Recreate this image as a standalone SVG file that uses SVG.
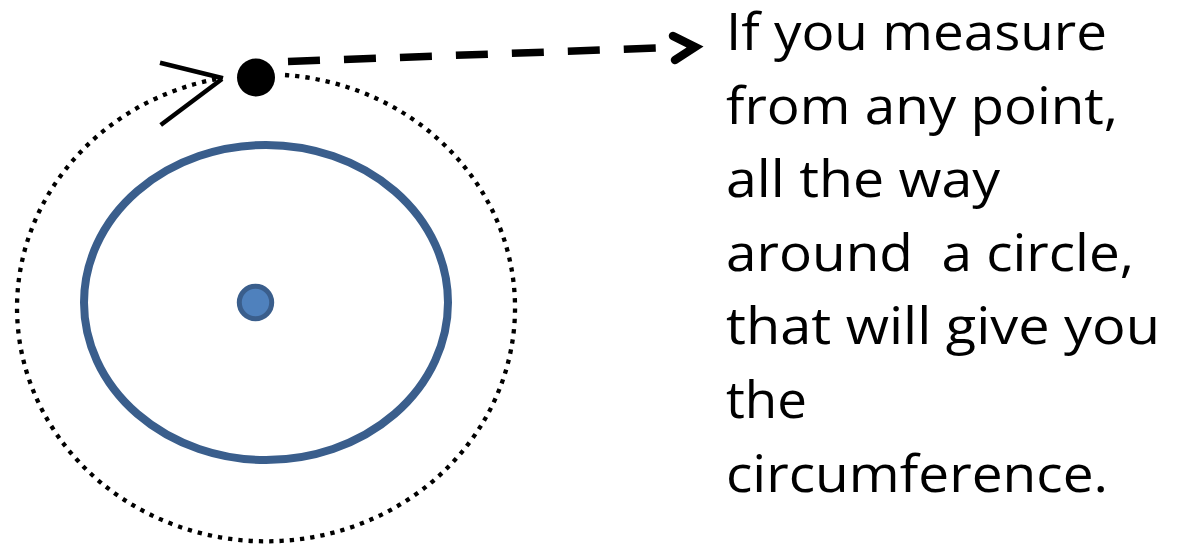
<svg xmlns="http://www.w3.org/2000/svg" width="1180" height="544" viewBox="0 0 1180 544">
<style>
.txt{font-family:"Open Sans","Liberation Sans",sans-serif;font-size:52px;fill:#000}
.dot-path{fill:none;stroke:#000;stroke-width:4.3;stroke-dasharray:4.3 6}
.dash{fill:none;stroke:#000;stroke-width:7.5;stroke-dasharray:32 24}
.head{fill:none;stroke:#000;stroke-width:4.5;stroke-linecap:butt}
</style>
<rect width="1180" height="544" fill="#fff"/>
<g id="circle">
<ellipse cx="266" cy="302.5" rx="182" ry="157.5" fill="none" stroke="#3A5E8C" stroke-width="8"/>
</g>
<g id="center">
<circle cx="255.5" cy="302.5" r="16.2" fill="#4F81BD" stroke="#3A5E8C" stroke-width="5"/>
</g>
<g id="point">
<circle cx="256" cy="77.5" r="19" fill="#000"/>
</g>
<g id="connectors">
<path class="dot-path" d="M 285 75 A 249 233.5 0 1 1 222 78"/>
<path class="head" d="M 160 62.7 L 223 78.3 M 160.7 125 L 222 79"/>
<path class="dash" d="M 288 61.5 L 662 47.8"/>
<path d="M 673 36 L 695 47 L 675 60" fill="none" stroke="#000" stroke-width="8.5" stroke-linecap="round" stroke-linejoin="miter"/>
</g>
<g id="label">
<text class="txt" x="726" y="50" textLength="381" lengthAdjust="spacingAndGlyphs">If you measure</text>
<text class="txt" x="726" y="123.6" textLength="392" lengthAdjust="spacingAndGlyphs">from any point,</text>
<text class="txt" x="726" y="197.2" textLength="274" lengthAdjust="spacingAndGlyphs">all the way</text>
<text class="txt" x="726" y="270.8" textLength="408" lengthAdjust="spacingAndGlyphs" xml:space="preserve">around  a circle,</text>
<text class="txt" x="726" y="344.4" textLength="434" lengthAdjust="spacingAndGlyphs">that will give you</text>
<text class="txt" x="726" y="418" textLength="81" lengthAdjust="spacingAndGlyphs">the</text>
<text class="txt" x="726" y="491.6" textLength="382" lengthAdjust="spacingAndGlyphs">circumference.</text>
</g>
</svg>
